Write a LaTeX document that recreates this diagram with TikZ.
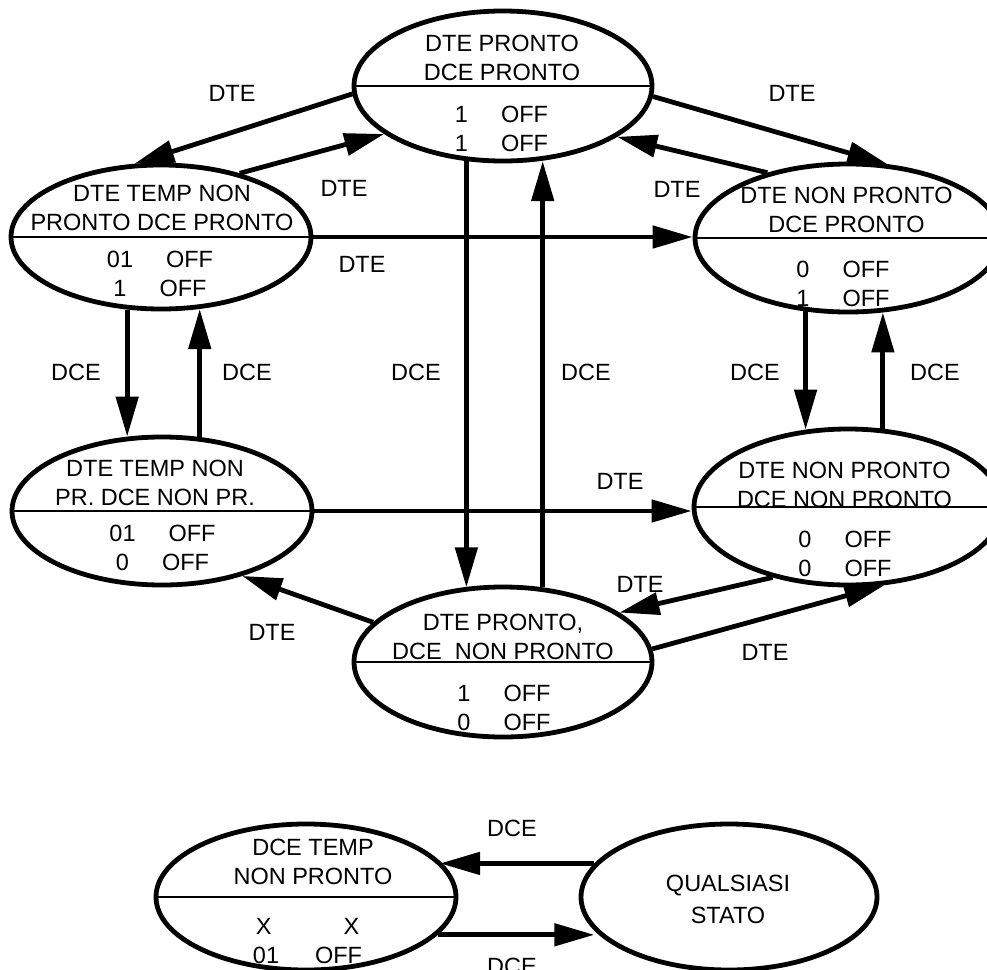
\documentclass[tikz,border=0pt]{standalone}
\usepackage{fontspec}
\setmainfont{Liberation Sans}
\usetikzlibrary{arrows.meta,shapes.geometric}
\begin{document}
\begin{tikzpicture}[x=1pt,y=-1pt,
  state/.style={ellipse,draw,line width=4.8pt,inner sep=0pt},
  divider/.style={line width=2.2pt},
  txt/.style={inner sep=0pt,align=center,font=\fontsize{23.5}{29}\selectfont},
  lbl/.style={inner sep=0pt,font=\fontsize{23.5}{29}\selectfont},
  arr/.style={line width=4.8pt,-{Triangle[length=40pt,width=22pt]}}]
\useasboundingbox (0,0) rectangle (987,969);
\clip (0,0) rectangle (987,969);

% states
\node[state,minimum width=298pt,minimum height=150pt] (A) at (503,86) {};
\node[state,minimum width=300pt,minimum height=144pt] (B) at (161,237) {};
\node[state,minimum width=306pt,minimum height=148pt] (C) at (848,238) {};
\node[state,minimum width=300pt,minimum height=148pt] (D) at (162,511) {};
\node[state,minimum width=308pt,minimum height=156pt] (E) at (848,507) {};
\node[state,minimum width=298pt,minimum height=150pt] (F) at (503,662) {};
\node[state,minimum width=300pt,minimum height=146pt] (G) at (306,897) {};
\node[state,minimum width=296pt,minimum height=146pt] (H) at (729,897) {};

% dividers
\foreach \s in {A,B,C,D,E,F,G} \draw[divider] (\s.west) -- (\s.east);

% state texts
\node[txt] (At) at (502,57.5) {DTE PRONTO\\DCE PRONTO};
\node[txt] (Ab) at (501.5,129) {1\hspace{33pt}OFF\\1\hspace{33pt}OFF};
\node[txt] (Bt) at (162,207.5) {DTE TEMP NON\\PRONTO DCE PRONTO};
\node[txt] (Bb) at (160,274) {01\hspace{33pt}OFF\\1\hspace{33pt}OFF};
\node[txt] (Ct) at (846.5,210) {DTE NON PRONTO\\DCE PRONTO};
\node[txt] (Cb) at (843,284) {0\hspace{33pt}OFF\\1\hspace{33pt}OFF};
\node[txt] (Dt) at (155,482.5) {DTE TEMP NON\\PR. DCE NON PR.};
\node[txt] (Db) at (162.5,548) {01\hspace{33pt}OFF\\0\hspace{33pt}OFF};
\node[txt] (Et) at (844.5,484.5) {DTE NON PRONTO\\DCE NON PRONTO};
\node[txt] (Eb) at (845,554) {0\hspace{33pt}OFF\\0\hspace{33pt}OFF};
\node[txt] (Ft) at (503,637) {DTE PRONTO,\\DCE\ \ NON PRONTO};
\node[txt] (Fb) at (504,708) {1\hspace{33pt}OFF\\0\hspace{33pt}OFF};
\node[txt] (Gt) at (313,861.5) {DCE TEMP\\NON PRONTO};
\node[txt] (Gb) at (307.5,941) {X\hspace{72pt}X\\01\hspace{36pt}OFF};
\node[txt,font=\fontsize{23.5}{32}\selectfont] (Ht) at (728,899) {QUALSIASI\\STATO};

% transitions
\draw[arr] (A.183) -- (B.110);
\draw[arr] (B.39) -- (A.202);
\draw[arr] (A.-4) -- (C.62);
\draw[arr] (C.141) -- (A.-24);
\draw[arr] (B.east) -- (B.east -| C.west);
\draw[arr] (B.245) -- (B.245 |- D.115);
\draw[arr] (D.63) -- (D.63 |- B.-62);
\draw[arr] (A.244) -- (A.244 |- F.118);
\draw[arr] (F.62) -- (F.62 |- A.-64);
\draw[arr] (C.240) -- (C.240 |- E.119);
\draw[arr] (E.66) -- (E.66 |- C.-65);
\draw[arr] (D.east) -- (D.east -| E.west);
\draw[arr] (F.163) -- (D.-39);
\draw[arr] (E.223) -- (F.23);
\draw[arr] (F.5) -- (E.-65);
\draw[arr] (H.166) -- (H.166 -| G.15);
\draw[arr] (G.-16) -- (G.-16 -| H.194);

% transition labels
\node[lbl] (l1) at (232,93) {DTE};
\node[lbl] (l2) at (344,188) {DTE};
\node[lbl] (l3) at (792,93) {DTE};
\node[lbl] (l4) at (677,189) {DTE};
\node[lbl] (l5) at (362,264) {DTE};
\node[lbl] (l6) at (76,372) {DCE};
\node[lbl] (l7) at (247,372) {DCE};
\node[lbl] (l8) at (416,372) {DCE};
\node[lbl] (l9) at (586,372) {DCE};
\node[lbl] (l10) at (755,372) {DCE};
\node[lbl] (l11) at (935,372) {DCE};
\node[lbl] (l12) at (620,481) {DTE};
\node[lbl] (l13) at (272,632) {DTE};
\node[lbl] (l14) at (640,584) {DTE};
\node[lbl] (l15) at (765,652) {DTE};
\node[lbl] (l16) at (512,828) {DCE};
\node[lbl] (l17) at (512,966) {DCE};
\end{tikzpicture}
\end{document}
